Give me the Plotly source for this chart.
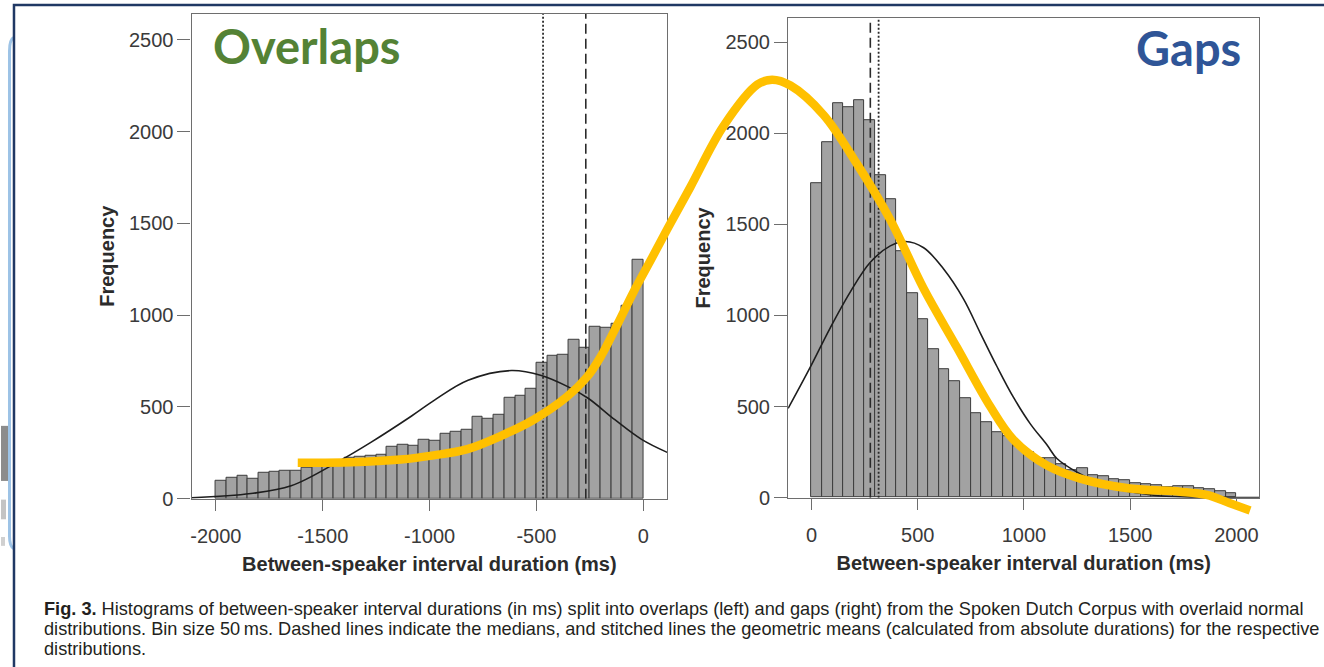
import plotly.graph_objects as go

W, H = 1324, 667

# ---------------- data ----------------
bin_size = 50
left_bin_starts = list(range(-2000, 0, bin_size))
left_counts = [95, 116, 125, 111, 139, 145, 150, 154, 166, 175,
               190, 205, 225, 229, 232, 241, 281, 291, 289, 322,
               318, 352, 363, 377, 445, 434, 459, 550, 561, 600,
               740, 777, 784, 865, 824, 938, 929, 952, 1049, 1300]

right_bin_starts = list(range(0, 2000, bin_size))
right_counts = [1728, 1949, 2164, 2144, 2183, 2073, 1769, 1641, 1352, 1122,
                977, 814, 706, 641, 544, 461, 416, 360, 335, 284,
                252, 217, 216, 182, 153, 162, 124, 119, 103, 94,
                79, 72, 66, 58, 61, 63, 50, 45, 38, 27]

# overlaid normal curves
left_norm_x = [-2114, -1836, -1648, -1430, -1273, -1086, -977, -820, -617,
               -477, -351, -258, -133, -8, 112]
left_norm_y = [5, 28, 70, 200, 308, 449, 537, 645, 698, 671, 609, 547, 430, 323, 252]

right_norm_x = [-110, -5, 89, 183, 277, 371, 442, 528, 622, 716, 794, 873, 951,
                1030, 1108, 1155, 1250, 1400, 1600, 1800, 2108]
right_norm_y = [490, 718, 934, 1130, 1292, 1382, 1406, 1372, 1255, 1090, 905, 720,
                550, 405, 290, 215, 140, 58, 15, 3, 0]

# medians (dashed) and geometric means (dotted)
left_median, left_geomean = -269, -469
right_median, right_geomean = 277, 316

# hand-drawn yellow curve, expressed in the left panel's units (ms, frequency)
yellow_x = [-1617, -1369, -1135, -981, -823, -668, -513, -356, -262, -200, -121, -46,
            34, 112, 221, 376, 534, 603, 689, 843, 1000, 1156, 1312, 1468, 1624,
            1731, 1889, 2045, 2278, 2512, 2637, 2746, 2840]
yellow_y = [196, 198, 213, 236, 270, 341, 430, 556, 665, 772, 949, 1125,
            1297, 1468, 1699, 2031, 2256, 2283, 2251, 2092, 1824, 1520, 1145, 824, 502,
            323, 181, 109, 55, 38, 20, -25, -64]

x_ticks_left = [-2000, -1500, -1000, -500, 0]
x_ticktext_left = ["-2000", "-1500", "-1000", "-500", "0"]
x_ticks_right = [0, 500, 1000, 1500, 2000]
y_ticks = [0, 500, 1000, 1500, 2000, 2500]

x_title = "Between-speaker interval duration (ms)"
y_title = "Frequency"
label_left, label_right = "Overlaps", "Gaps"
caption_lines = [
    "<b>Fig. 3.</b> Histograms of between-speaker interval durations (in ms) split into overlaps (left) and gaps (right) from the Spoken Dutch Corpus with overlaid normal",
    "distributions. Bin size 50\u2009ms. Dashed lines indicate the medians, and stitched lines the geometric means (calculated from absolute durations) for the respective",
    "distributions.",
]

# ---------------- layout geometry ----------------
L_dom_x = [190.7 / W, 666.7 / W]
L_dom_y = [1 - 507 / H, 1 - 14 / H]
R_dom_x = [787.7 / W, 1259.3 / W]
R_dom_y = [1 - 506 / H, 1 - 18.5 / H]
L_xr, L_yr = [-2114, 112], [0, 2642]
R_xr, R_yr = [-110, 2108], [0, 2632]


def full_range(dom, rng):
    scale = (rng[1] - rng[0]) / (dom[1] - dom[0])
    return [rng[0] - dom[0] * scale, rng[0] + (1 - dom[0]) * scale]


O_xr = full_range(L_dom_x, L_xr)
O_yr = full_range(L_dom_y, L_yr)

BAR_FILL = "#A2A2A2"
BAR_LINE = "#3C3C3C"
AX_COL = "#6E6E6E"
TXT = "#2B2B2B"
FONT = "Liberation Sans, Arial, Helvetica, sans-serif"

fig = go.Figure()

# left panel
fig.add_trace(go.Bar(x=[s + bin_size / 2 for s in left_bin_starts], y=left_counts,
                     width=bin_size, marker=dict(color=BAR_FILL, line=dict(color=BAR_LINE, width=1)),
                     xaxis="x", yaxis="y", showlegend=False, hoverinfo="skip"))
fig.add_trace(go.Scatter(x=left_norm_x, y=left_norm_y, mode="lines", line=dict(color="#1E1E1E", width=1.6, shape="spline"),
                         xaxis="x", yaxis="y", showlegend=False, hoverinfo="skip"))
fig.add_trace(go.Scatter(x=[left_geomean, left_geomean], y=L_yr, mode="lines",
                         line=dict(color="#2A2A2A", width=1.8, dash="2px,2px"),
                         xaxis="x", yaxis="y", showlegend=False, hoverinfo="skip"))
fig.add_trace(go.Scatter(x=[left_median, left_median], y=L_yr, mode="lines",
                         line=dict(color="#2A2A2A", width=1.6, dash="10px,5px"),
                         xaxis="x", yaxis="y", showlegend=False, hoverinfo="skip"))

# right panel
fig.add_trace(go.Bar(x=[s + bin_size / 2 for s in right_bin_starts], y=right_counts,
                     width=bin_size, marker=dict(color=BAR_FILL, line=dict(color=BAR_LINE, width=1)),
                     xaxis="x2", yaxis="y2", showlegend=False, hoverinfo="skip"))
fig.add_trace(go.Scatter(x=right_norm_x, y=right_norm_y, mode="lines", line=dict(color="#1E1E1E", width=1.6, shape="spline"),
                         xaxis="x2", yaxis="y2", showlegend=False, hoverinfo="skip"))
fig.add_trace(go.Scatter(x=[right_geomean, right_geomean], y=R_yr, mode="lines",
                         line=dict(color="#2A2A2A", width=1.8, dash="2px,2px"),
                         xaxis="x2", yaxis="y2", showlegend=False, hoverinfo="skip"))
fig.add_trace(go.Scatter(x=[right_median, right_median], y=R_yr, mode="lines",
                         line=dict(color="#2A2A2A", width=1.6, dash="10px,5px"),
                         xaxis="x2", yaxis="y2", showlegend=False, hoverinfo="skip"))

# yellow overlay curve across both panels
fig.add_trace(go.Scatter(x=yellow_x, y=yellow_y, mode="lines",
                         line=dict(color="#FFC000", width=8.5, shape="spline", smoothing=1.0),
                         xaxis="x3", yaxis="y3", showlegend=False, hoverinfo="skip"))

tickfont = dict(family=FONT, size=20, color="#3A3A3A")
titlefont = dict(family=FONT, size=20, color=TXT, weight="bold")

common_x = dict(showgrid=False, zeroline=False, showline=True, mirror=True, linecolor=AX_COL, linewidth=1.2,
                ticks="outside", ticklen=11, tickcolor=AX_COL, tickwidth=1.2, tickfont=tickfont,
                ticklabelstandoff=8, fixedrange=True)
common_y = dict(showgrid=False, zeroline=False, showline=True, mirror=True, linecolor=AX_COL, linewidth=1.2,
                ticks="outside", ticklen=13, tickcolor=AX_COL, tickwidth=1.2, tickfont=tickfont,
                tickvals=y_ticks, fixedrange=True)

fig.update_layout(
    width=W, height=H, autosize=False,
    margin=dict(l=0, r=0, t=0, b=0),
    paper_bgcolor="white", plot_bgcolor="rgba(0,0,0,0)",
    bargap=0,
    xaxis=dict(common_x, domain=L_dom_x, range=L_xr, tickvals=x_ticks_left, ticktext=x_ticktext_left, anchor="y",
               title=dict(text=x_title, font=titlefont, standoff=11)),
    yaxis=dict(common_y, domain=L_dom_y, range=L_yr, anchor="x",
               title=dict(text=y_title, font=titlefont, standoff=8)),
    xaxis2=dict(common_x, domain=R_dom_x, range=R_xr, tickvals=x_ticks_right, anchor="y2",
                title=dict(text=x_title, font=titlefont, standoff=11)),
    yaxis2=dict(common_y, domain=R_dom_y, range=R_yr, anchor="x2",
                title=dict(text=y_title, font=titlefont, standoff=9)),
    xaxis3=dict(domain=[0, 1], range=O_xr, visible=False, fixedrange=True, anchor="y3"),
    yaxis3=dict(domain=[0, 1], range=O_yr, visible=False, fixedrange=True, anchor="x3"),
)

annotations = [
    dict(text=label_left, x=306 / W, y=1 - 47 / H, xref="paper", yref="paper", xanchor="center", yanchor="middle",
         showarrow=False, font=dict(family="Lato, Carlito, Calibri, sans-serif", size=47, color="#548235", weight="bold")),
    dict(text=label_right, x=1188 / W, y=1 - 49 / H, xref="paper", yref="paper", xanchor="center", yanchor="middle",
         showarrow=False, font=dict(family="Lato, Carlito, Calibri, sans-serif", size=47, color="#2F5597", weight="bold")),
]
for i, (line, yy) in enumerate(zip(caption_lines, [619, 640, 660])):
    annotations.append(dict(text=line, x=41 / W, y=1 - yy / H, xref="paper", yref="paper",
                            xanchor="left", yanchor="middle", showarrow=False,
                            font=dict(family=FONT, size=18.2, color="#231F20")))
fig.update_layout(annotations=annotations)

# slide decorations around the pasted figure
shapes = [
    dict(type="rect", xref="paper", yref="paper", x0=0, x1=9 / W, y0=1 - 489 / H, y1=1 - 433 / H,
         line=dict(width=0), fillcolor="#8C8C8C"),
    dict(type="rect", xref="paper", yref="paper", x0=0, x1=5 / W, y0=1 - 528 / H, y1=1 - 508 / H,
         line=dict(width=0), fillcolor="#C4C4C4"),
    dict(type="rect", xref="paper", yref="paper", x0=0, x1=4 / W, y0=1 - 555 / H, y1=1 - 546 / H,
         line=dict(width=0), fillcolor="#D0D0D0"),
    dict(type="path", xref="paper", yref="paper",
         path=f"M {13/W},{1-38/H} Q {8.5/W},{1-40/H} {8.5/W},{1-52/H} L {8.5/W},{1-545/H} Q {8.5/W},{1-556/H} {13/W},{1-558/H}",
         line=dict(color="#9DC3E6", width=3)),
    dict(type="rect", xref="paper", yref="paper", x0=13 / W, x1=1.05, y0=-0.1, y1=1 - 5 / H,
         line=dict(color="#203864", width=2.5), fillcolor="rgba(0,0,0,0)"),
]
fig.update_layout(shapes=shapes)

fig.write_html("out.html")
